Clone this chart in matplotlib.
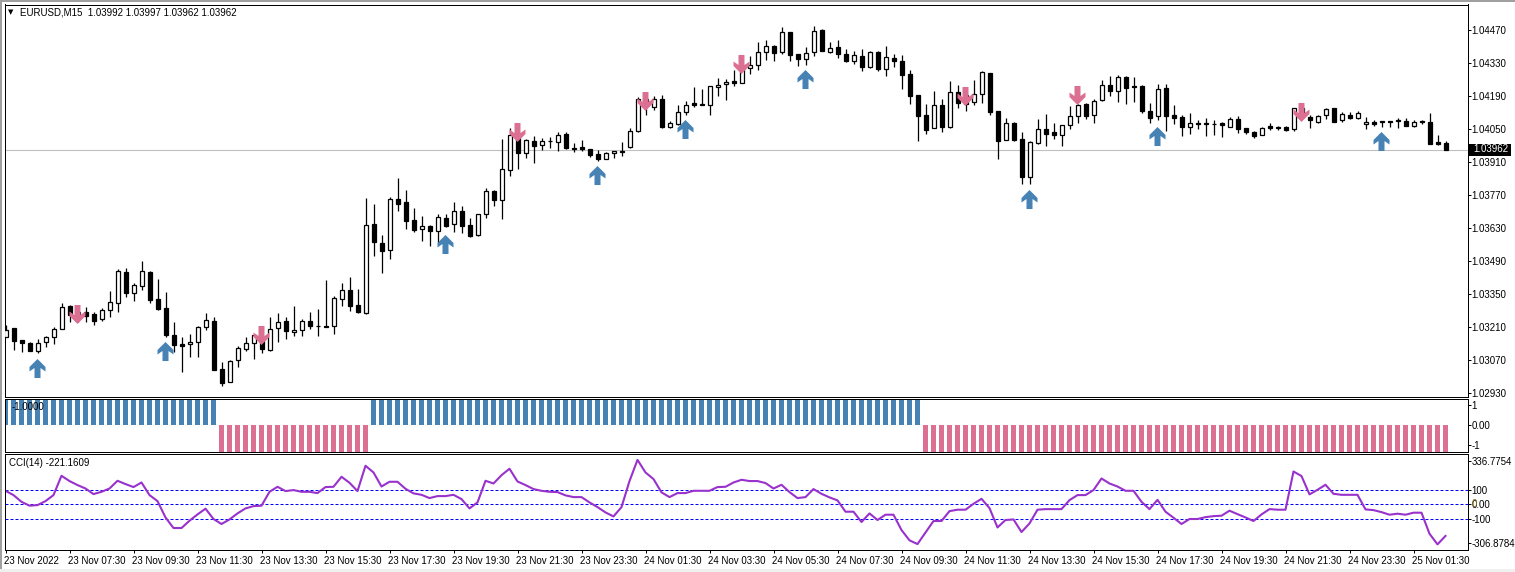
import matplotlib
matplotlib.use("Agg")
import matplotlib.pyplot as plt
from matplotlib.patches import Rectangle
from matplotlib.path import Path
import numpy as np

# OHLC in 1/100000 of a price unit, bar by bar
open_pts = [103169,103205,103155,103141,103106,103145,103169,103200,103299,103265,
            103274,103264,103243,103281,103311,103442,103353,103383,103442,103328,
            103290,103175,103137,103137,103145,103208,103234,103031,102976,103069,
            103118,103144,103169,103114,103205,103234,103188,103196,103234,103213,
            103213,103213,103328,103366,103302,103271,103646,103565,103535,103753,
            103739,103663,103627,103639,103619,103671,103646,103702,103641,103599,
            103688,103785,103747,103875,104010,103947,103998,103981,103998,103994,
            104027,103970,103972,103964,103943,103921,103947,103957,103972,104040,
            104176,104142,104176,104060,104070,104120,104159,104158,104153,104226,
            104239,104253,104246,104310,104320,104375,104400,104378,104460,104366,
            104348,104375,104468,104375,104396,104366,104339,104358,104314,104375,
            104306,104349,104337,104282,104192,104108,104052,104150,104059,104205,
            104194,104166,104197,104286,104125,104002,104074,104006,103845,103992,
            104048,104035,104026,104065,104103,104155,104111,104173,104236,104213,
            104271,104231,104233,104125,104103,104223,104108,104100,104060,104074,
            104076,104073,104076,104060,104093,104053,104036,104026,104063,104059,
            104059,104049,104138,104101,104080,104108,104138,104086,104110,104098,
            104070,104079,104083,104083,104088,104084,104064,104083,104079,103995,
            103992]
high_pts = [103219,103205,103155,103145,103158,103172,103209,103311,103304,103290,
            103294,103273,103290,103362,103455,103459,103398,103490,103448,103414,
            103357,103232,103167,103181,103215,103268,103251,103062,103069,103130,
            103169,103175,103176,103251,103268,103251,103299,103243,103274,103287,
            103410,103340,103397,103421,103372,103757,103732,103600,103762,103842,
            103791,103715,103681,103643,103688,103689,103740,103723,103671,103691,
            103800,103791,104006,104053,104046,104006,104020,104010,104016,104036,
            104036,103989,104002,103964,103960,103951,103955,103994,104053,104187,
            104187,104190,104193,104083,104152,104169,104228,104219,104233,104265,
            104260,104300,104328,104359,104421,104427,104405,104481,104460,104366,
            104396,104487,104472,104417,104427,104388,104379,104389,104379,104380,
            104402,104368,104364,104300,104192,104158,104211,104177,104253,104235,
            104201,104257,104296,104286,104125,104096,104078,104035,103999,104092,
            104112,104074,104065,104147,104158,104162,104176,104258,104275,104279,
            104275,104269,104236,104159,104241,104241,104152,104110,104117,104086,
            104096,104088,104080,104100,104105,104056,104043,104060,104074,104064,
            104063,104141,104141,104110,104110,104137,104138,104121,104124,104125,
            104100,104087,104084,104084,104098,104096,104087,104087,104118,104025,
            103997]
low_pts = [103169,103113,103103,103106,103101,103127,103138,103200,103233,103233,
           103229,103220,103237,103254,103275,103335,103322,103367,103311,103280,
           103169,103104,103017,103084,103084,103198,103029,102961,102976,103042,
           103110,103076,103101,103110,103148,103159,103172,103172,103200,103172,
           103209,103181,103299,103278,103271,103267,103513,103441,103500,103704,
           103627,103614,103576,103555,103565,103634,103614,103610,103593,103598,
           103673,103725,103670,103851,103882,103927,103907,103962,103971,103958,
           103967,103952,103958,103933,103916,103921,103927,103937,103971,104039,
           104111,104132,104052,104052,104067,104111,104145,104153,104109,104190,
           104173,104233,104246,104283,104300,104342,104338,104368,104339,104317,
           104321,104359,104380,104371,104349,104334,104325,104297,104310,104297,
           104274,104311,104219,104158,104000,104030,104052,104038,104055,104139,
           104127,104153,104160,104109,103924,104002,103999,103818,103818,103987,
           103977,104009,103977,104051,104074,104091,104077,104168,104190,104166,
           104156,104165,104117,104077,104088,104043,104071,104021,104029,104050,
           104021,104025,104018,104057,104032,104029,104012,104023,104046,104045,
           104040,104043,104096,104055,104077,104093,104081,104081,104091,104091,
           104049,104063,104060,104060,104056,104063,104059,104069,103985,103982,
           103962]
close_pts = [103195,103152,103140,103106,103141,103169,103200,103294,103261,103274,
             103258,103237,103281,103315,103446,103352,103387,103446,103326,103288,
             103178,103135,103131,103145,103209,103239,103029,102974,103065,103120,
             103141,103175,103118,103200,103230,103191,103196,103234,103216,103212,
             103210,103332,103366,103301,103274,103641,103572,103534,103752,103733,
             103661,103623,103637,103619,103675,103639,103701,103640,103598,103688,
             103785,103750,103879,104023,103946,104002,103979,103998,103997,104023,
             103971,103967,103967,103941,103924,103947,103955,103954,104040,104176,
             104159,104176,104060,104074,104121,104150,104153,104153,104231,104235,
             104248,104246,104321,104320,104375,104400,104374,104460,104365,104348,
             104374,104464,104382,104392,104369,104339,104362,104314,104375,104306,
             104354,104337,104280,104191,104106,104047,104150,104059,104205,104161,
             104158,104197,104290,104123,104000,104074,104003,103847,103993,104048,
             104030,104026,104065,104103,104150,104107,104170,104236,104213,104269,
             104224,104227,104128,104097,104219,104107,104097,104060,104074,104069,
             104073,104070,104066,104091,104049,104035,104021,104056,104055,104052,
             104046,104138,104110,104087,104105,104134,104081,104114,104097,104117,
             104079,104071,104079,104079,104083,104064,104079,104079,103987,103988,
             103962]

# arrows: bar index and price of the arrow middle
buy_bars = [4, 20, 55, 74, 85, 100, 128, 144, 172]
buy_pts = [103038, 103106, 103564, 103853, 104048, 104260, 103751, 104022, 103999]
sell_bars = [9, 32, 64, 80, 92, 120, 134, 162]
sell_pts = [103267, 103174, 104035, 104167, 104324, 104188, 104196, 104124]

# middle panel state per bar
signal = [1]*27 + [-1]*19 + [1]*69 + [-1]*66

cci = [94,64,17,-10,-6,22,64,199,162,134,
       110,71,87,110,164,141,120,152,64,22,
       -92,-166,-166,-115,-71,-31,-103,-138,-106,-64,
       -29,-13,-10,87,122,92,99,87,87,78,
       120,122,192,150,92,269,222,124,157,157,
       108,76,66,43,57,57,66,36,-29,13,
       164,145,203,248,159,134,106,94,87,85,
       62,50,50,13,-20,-57,-85,-20,162,310,
       222,176,83,50,78,78,94,94,94,120,
       122,152,171,162,162,148,110,136,85,43,
       50,106,73,48,27,-52,-52,-124,-64,-110,
       -73,-73,-180,-252,-278,-197,-117,-117,-48,-38,
       -38,3,38,-27,-162,-110,-106,-194,-134,-38,
       -34,-34,-34,29,64,64,99,180,145,124,
       94,94,17,-34,31,-52,-94,-138,-103,-103,
       -90,-83,-80,-45,-69,-92,-117,-71,-34,-38,
       -38,229,197,69,101,136,73,66,66,66,
       -36,-41,-55,-73,-66,-73,-59,-59,-206,-280,
       -221.16]

price_ticks = [1.04470, 1.04330, 1.04190, 1.04050, 1.03910, 1.03770,
               1.03630, 1.03490, 1.03350, 1.03210, 1.03070, 1.02930]
last_price = 1.03962
cci_levels = [100, 0, -100]
time_labels = ["23 Nov 2022", "23 Nov 07:30", "23 Nov 09:30", "23 Nov 11:30", "23 Nov 13:30",
               "23 Nov 15:30", "23 Nov 17:30", "23 Nov 19:30", "23 Nov 21:30", "23 Nov 23:30",
               "24 Nov 01:30", "24 Nov 03:30", "24 Nov 05:30", "24 Nov 07:30", "24 Nov 09:30",
               "24 Nov 11:30", "24 Nov 13:30", "24 Nov 15:30", "24 Nov 17:30", "24 Nov 19:30",
               "24 Nov 21:30", "24 Nov 23:30", "25 Nov 01:30"]

BLUE = "#4682B4"
PINK = "#DB7093"
W, H = 1515, 572
FS = 7.0

plt.rcParams["font.family"] = ["Liberation Sans", "DejaVu Sans"]
plt.rcParams["font.size"] = FS
plt.rcParams["axes.linewidth"] = 0.72


def panel(top, bottom):
    # panel box given in image pixels
    left, right = 4.5, 1467.5
    ax = fig.add_axes([left/W, 1 - bottom/H, (right-left)/W, (bottom-top)/H])
    ax.set_xlim(-0.125, 182.75)
    ax.yaxis.tick_right()
    ax.tick_params(axis="y", length=2.2, width=0.72, pad=0.9, labelsize=FS)
    ax.set_xticks([])
    return ax


fig = plt.figure(figsize=(W/100, H/100), dpi=100, facecolor="white")

# window edges
fig.add_artist(Rectangle((0, 1 - 2/H), 1, 2/H, transform=fig.transFigure, color="#a0a0a0", lw=0))
fig.add_artist(Rectangle((0, 0), 2/W, 1, transform=fig.transFigure, color="#a0a0a0", lw=0))
fig.add_artist(Rectangle((0, 0), 1, 3/H, transform=fig.transFigure, color="#f0f0f0", lw=0))

# --- candles ---
ax1 = panel(4.5, 396.5)
x = np.arange(len(close_pts))
o = np.array(open_pts) / 1e5
h = np.array(high_pts) / 1e5
l = np.array(low_pts) / 1e5
c = np.array(close_pts) / 1e5
ax1.set_ylim(1.02915, 1.04578)
ax1.axhline(last_price, color="#c0c0c0", lw=0.8, zorder=1)
ax1.vlines(x, l, h, color="black", lw=0.9, zorder=2)
up = c >= o
body_col = ["white" if u else "black" for u in up]
ax1.bar(x, np.abs(c - o), bottom=np.minimum(o, c), width=0.5, color=body_col,
        edgecolor="black", linewidth=0.9, zorder=3)

# arrows, sizes in px around the middle, one px left of the bar like the terminal draws them
up_arrow = Path([(-1, 9.5), (7, 1.5), (7, -3), (2, 0.5), (2, -9.5), (-4, -9.5),
                 (-4, 0.5), (-9, -3), (-9, 1.5), (-1, 9.5)], closed=True)
down_arrow = Path(up_arrow.vertices * [1, -1], closed=True)
ax1.plot(buy_bars, np.array(buy_pts)/1e5, ls="none", marker=up_arrow, ms=13.68,
         mfc=BLUE, mew=0, zorder=5)
ax1.plot(sell_bars, np.array(sell_pts)/1e5, ls="none", marker=down_arrow, ms=13.68,
         mfc=PINK, mew=0, zorder=5)

ax1.set_yticks(price_ticks)
ax1.set_yticklabels([f"{p:.5f}" for p in price_ticks])

# last price tag
fig.add_artist(Rectangle((1468/W, 1 - 155.5/H), 43/W, 12/H, transform=fig.transFigure,
                         color="black", lw=0))
fig.text(1473/W, 1 - 149.5/H, f"{last_price:.5f}", color="white", fontsize=FS,
         va="center", ha="left")

fig.text(8/W, 1 - 12/H, "\u25bc", fontsize=5, va="center", ha="left", family="DejaVu Sans")
fig.text(20/W, 1 - 12.5/H, "EURUSD,M15  1.03992 1.03997 1.03962 1.03962", fontsize=FS, va="center")

# --- signal histogram ---
ax2 = panel(398.5, 451.5)
ax2.set_ylim(-1, 1)
sig_col = [BLUE if s > 0 else PINK for s in signal]
ax2.bar(x, signal, width=0.625, color=sig_col, linewidth=0)
ax2.set_yticks([0.75, 0, -0.75])
ax2.set_yticklabels(["1", "0.00", "-1"])
fig.text(12/W, 1 - 407.5/H, "-1.0000", fontsize=FS, va="center")

# --- CCI ---
ax3 = panel(453.5, 549.5)
ax3.set_ylim(-316, 354.5)
for lev in cci_levels:
    ax3.axhline(lev, color="#0000ff", lw=0.72, ls=(0, (3, 2)), zorder=1)
ax3.plot(x, cci, color="#9932CC", lw=1.5, zorder=2)
ax3.set_yticks([305, 100, 0, -100, -268])
ax3.set_yticklabels(["336.7754", "100", "0.00", "-100", "-306.8784"])
# the terminal prints the zero level twice on top of each other
ax3.annotate("0", (1, 0), xycoords=("axes fraction", "data"), xytext=(3.2, 0),
             textcoords="offset points", ha="left", va="center", fontsize=FS,
             color="#8a6d1a", annotation_clip=False)
fig.text(9/W, 1 - 462.5/H, "CCI(14) -221.1609", fontsize=FS, va="center")

tick_bars = np.arange(len(time_labels)) * 8
ax3.set_xticks(tick_bars)
ax3.set_xticklabels([])
ax3.tick_params(axis="x", length=2.2, width=0.72)
for b, lab in zip(tick_bars, time_labels):
    ax3.annotate(lab, (b, 0), xycoords=("data", "axes fraction"), xytext=(-1.1, -4.4),
                 textcoords="offset points", ha="left", va="top", fontsize=FS,
                 annotation_clip=False)

fig.savefig("out.png", dpi=100)
